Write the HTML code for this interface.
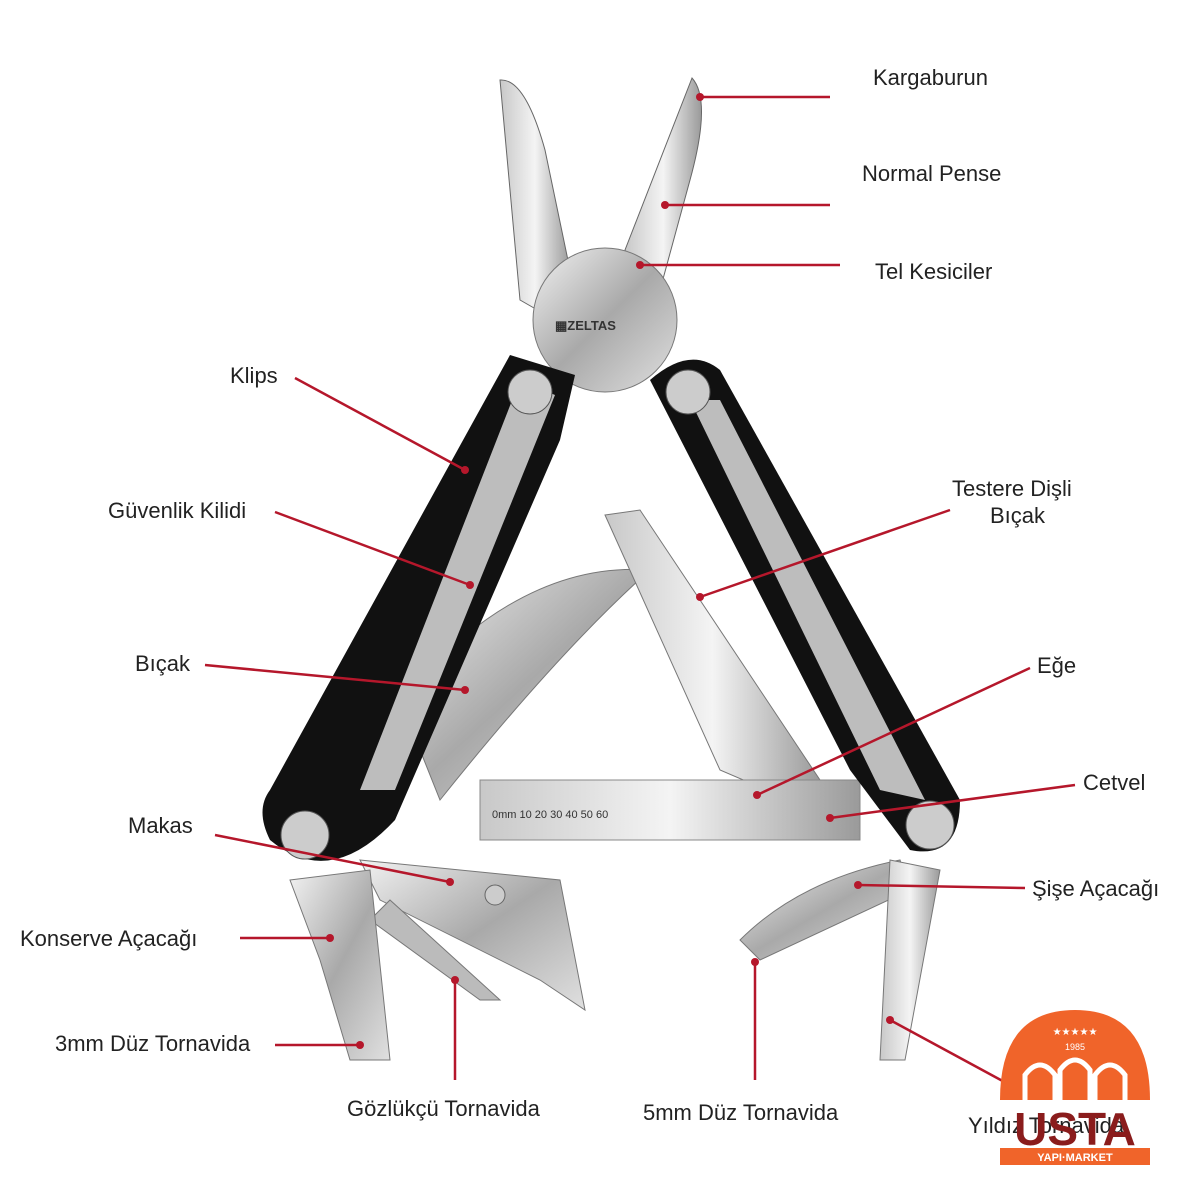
<!DOCTYPE html>
<html><head><meta charset="utf-8"><style>
html,body{margin:0;padding:0;background:#fff;}
svg{display:block}
text{font-family:"Liberation Sans",sans-serif;font-size:22px;fill:#222;}
</style></head><body>
<svg width="1200" height="1200" viewBox="0 0 1200 1200">
<defs>
<linearGradient id="st" x1="0" y1="0" x2="1" y2="1">
<stop offset="0" stop-color="#f2f2f2"/><stop offset="0.5" stop-color="#a9a9a9"/><stop offset="1" stop-color="#e0e0e0"/></linearGradient>
<linearGradient id="st2" x1="0" y1="0" x2="1" y2="0">
<stop offset="0" stop-color="#c8c8c8"/><stop offset="0.5" stop-color="#f4f4f4"/><stop offset="1" stop-color="#9a9a9a"/></linearGradient>
</defs>
<!-- pliers jaws -->
<path d="M500 80 Q525 78 545 150 L570 270 L555 320 L520 300 Z" fill="url(#st2)" stroke="#666"/>
<path d="M692 78 Q712 100 690 180 L660 290 L640 300 L625 250 Z" fill="url(#st2)" stroke="#666"/>
<circle cx="605" cy="320" r="72" fill="url(#st)" stroke="#777"/>
<text x="555" y="330" style="font-size:13px;font-weight:bold;fill:#333">▦ZELTAS</text>
<!-- blades -->
<path d="M400 700 Q520 560 650 570 Q560 650 440 800 Z" fill="url(#st)" stroke="#777"/>
<path d="M605 515 L640 510 L820 780 L790 800 L720 770 Z" fill="url(#st2)" stroke="#777"/>
<rect x="480" y="780" width="380" height="60" fill="url(#st2)" stroke="#888"/>
<text x="492" y="818" style="font-size:11px;fill:#333">0mm   10     20     30     40     50    60</text>
<path d="M360 860 L560 880 L585 1010 L540 980 L380 900 Z" fill="url(#st)" stroke="#777"/>
<circle cx="495" cy="895" r="10" fill="#ccc" stroke="#666"/>
<path d="M390 900 L500 1000 L480 1000 L370 920 Z" fill="#bbb" stroke="#777"/>
<path d="M740 940 Q800 880 900 860 L910 890 L760 960 Z" fill="url(#st)" stroke="#777"/>
<path d="M890 860 L940 870 L905 1060 L880 1060 Z" fill="url(#st2)" stroke="#777"/>
<path d="M290 880 L370 870 L390 1060 L350 1060 L320 960 Z" fill="url(#st)" stroke="#777"/>
<!-- handles -->
<path d="M510 355 L575 375 L560 440 L395 820 Q330 890 270 840 Q255 810 270 790 Z" fill="#111"/>
<path d="M520 380 L555 395 L395 790 L360 790 Z" fill="#bdbdbd"/>
<circle cx="530" cy="392" r="22" fill="#ccc" stroke="#555"/>
<circle cx="305" cy="835" r="24" fill="#ccc" stroke="#555"/>
<path d="M650 380 Q690 345 720 370 L960 800 Q960 860 910 850 L850 770 Z" fill="#111"/>
<path d="M690 400 L720 400 L925 800 L880 790 Z" fill="#bdbdbd"/>
<circle cx="688" cy="392" r="22" fill="#ccc" stroke="#555"/>
<circle cx="930" cy="825" r="24" fill="#ccc" stroke="#555"/>
<!-- leader lines -->
<g stroke="#b5172b" stroke-width="2.5" fill="none">
<path d="M700 97 H830"/><path d="M665 205 H830"/><path d="M640 265 H840"/>
<path d="M295 378 L465 470"/><path d="M275 512 L470 585"/><path d="M205 665 L465 690"/>
<path d="M215 835 L450 882"/><path d="M240 938 H330"/><path d="M275 1045 H360"/>
<path d="M455 980 V1080"/><path d="M755 962 V1080"/><path d="M890 1020 L1010 1085"/>
<path d="M858 885 L1025 888"/><path d="M830 818 L1075 785"/><path d="M757 795 L1030 668"/>
<path d="M700 597 L950 510"/>
</g>
<g fill="#b5172b">
<circle cx="700" cy="97" r="4"/><circle cx="665" cy="205" r="4"/><circle cx="640" cy="265" r="4"/>
<circle cx="465" cy="470" r="4"/><circle cx="470" cy="585" r="4"/><circle cx="465" cy="690" r="4"/>
<circle cx="450" cy="882" r="4"/><circle cx="330" cy="938" r="4"/><circle cx="360" cy="1045" r="4"/>
<circle cx="455" cy="980" r="4"/><circle cx="755" cy="962" r="4"/><circle cx="890" cy="1020" r="4"/>
<circle cx="858" cy="885" r="4"/><circle cx="830" cy="818" r="4"/><circle cx="757" cy="795" r="4"/>
<circle cx="700" cy="597" r="4"/>
</g>
<!-- labels -->
<text x="873" y="85">Kargaburun</text>
<text x="862" y="181">Normal Pense</text>
<text x="875" y="279">Tel Kesiciler</text>
<text x="230" y="383">Klips</text>
<text x="108" y="518">Güvenlik Kilidi</text>
<text x="135" y="671">Bıçak</text>
<text x="128" y="833">Makas</text>
<text x="20" y="946">Konserve Açacağı</text>
<text x="55" y="1051">3mm Düz Tornavida</text>
<text x="347" y="1116">Gözlükçü Tornavida</text>
<text x="643" y="1120">5mm Düz Tornavida</text>
<text x="968" y="1133">Yıldız Tornavida</text>
<text x="1032" y="896">Şişe Açacağı</text>
<text x="1083" y="790">Cetvel</text>
<text x="1037" y="673">Eğe</text>
<text x="952" y="496">Testere Dişli</text>
<text x="990" y="523">Bıçak</text>
<!-- logo -->
<path d="M1000 1100 Q1000 1010 1075 1010 Q1150 1010 1150 1100 Z" fill="#f0642a"/>
<path d="M1025 1100 V1075 Q1040 1055 1055 1075 V1100 M1060 1100 V1070 Q1075 1050 1090 1070 V1100 M1095 1100 V1075 Q1110 1055 1125 1075 V1100" stroke="#fff" stroke-width="5" fill="none"/>
<text x="1075" y="1035" text-anchor="middle" style="font-size:10px;fill:#fff">★★★★★</text>
<text x="1075" y="1050" text-anchor="middle" style="font-size:9px;fill:#fff">1985</text>
<text x="1075" y="1145" text-anchor="middle" style="font-size:46px;font-weight:bold;fill:#8a1c1c">USTA</text>
<rect x="1000" y="1148" width="150" height="17" fill="#f0642a"/>
<text x="1075" y="1161" text-anchor="middle" style="font-size:11px;fill:#fff;font-weight:bold">YAPI·MARKET</text>
</svg>
</body></html>
